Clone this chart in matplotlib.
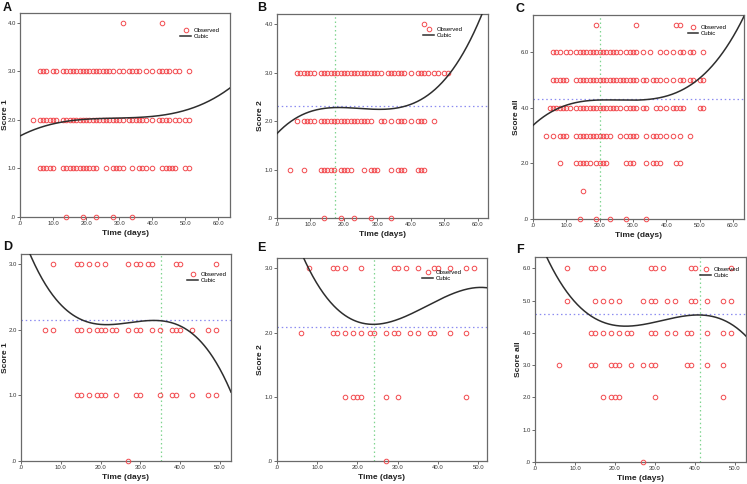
import numpy as np
import matplotlib
matplotlib.use("Agg")
import matplotlib.pyplot as plt
from matplotlib.ticker import FuncFormatter, MultipleLocator
from matplotlib.lines import Line2D

plt.rcParams["font.family"] = ["Liberation Sans", "DejaVu Sans"]

# ---------------- data (days observed at each score level) ----------------
# Panel A: Score 1
A_s4 = [31, 43]
A_s3 = [6, 7, 8, 10, 11, 13, 14, 15, 16, 17, 18, 19, 20, 21, 22, 23, 24, 25, 26, 27, 28,
        30, 31, 33, 34, 35, 36, 38, 40, 42, 43, 44, 45, 47, 48, 51]
A_s2 = [4, 6, 7, 8, 9, 10, 11] + list(range(13, 32)) + [33, 34, 35, 36, 37, 38, 40,
        42, 43, 44, 45, 47, 48, 50, 51]
A_s1 = [6, 7, 8, 9, 10, 13, 14, 15, 16, 17, 18, 19, 20, 21, 22, 23, 26, 28, 29, 30, 31,
        34, 36, 37, 38, 40, 43, 44, 45, 46, 47, 50, 51]
A_s0 = [14, 19, 23, 28, 34]
A_fit_x = [0, 10, 20, 30, 40, 50, 60]
A_fit_y = [1.66, 1.94, 2.00, 2.03, 2.07, 2.21, 2.49]

# Panel B: Score 2
B_s4 = [44]
B_s3 = [6, 7, 8, 9, 10, 11] + list(range(13, 32)) + [33, 34, 35, 36, 37, 38, 40,
        42, 43, 44, 45, 47, 48, 50, 51]
B_s2 = [6, 8, 9, 10, 11] + list(range(13, 29)) + [31, 32, 34, 36, 37, 38, 40, 42, 43, 44, 47]
B_s1 = [4, 8, 13, 14, 15, 16, 17, 19, 20, 21, 22, 26, 28, 29, 30, 34, 36, 37, 38, 42, 43, 44]
B_s0 = [14, 19, 23, 28, 34]
B_fit_x = [0, 10, 17, 30, 40, 50, 60]
B_fit_y = [1.75, 2.16, 2.32, 2.25, 2.30, 2.89, 4.00]
B_vline, B_hline = 17.2, 2.32

# Panel C: Score all
C_s7 = [19, 31, 43, 44]
C_s6 = [6, 7, 8, 10, 11] + list(range(13, 27)) + [28, 29, 30, 31, 33, 35, 38, 40, 42,
        44, 45, 47, 48, 51]
C_s5 = [6, 7, 8, 9, 10] + list(range(13, 32)) + [33, 34, 36, 37, 38, 40, 42, 44, 45,
        47, 48, 50, 51]
C_s4 = [5, 6, 7, 8, 9, 10, 11] + list(range(13, 27)) + [28, 29, 30, 31, 33, 34, 37, 38,
        40, 42, 43, 44, 45, 50, 51]
C_s3 = [4, 6, 8, 9, 10] + list(range(13, 24)) + [26, 28, 29, 30, 31, 34, 36, 37, 38,
        40, 42, 44, 47]
C_s2 = [8, 13, 14, 15, 16, 17, 19, 20, 21, 22, 28, 29, 30, 34, 36, 37, 38, 43, 44]
C_s1 = [15]
C_s0 = [14, 19, 23, 28, 34]
C_fit_x = [0, 10, 20, 30, 40, 50, 60]
C_fit_y = [3.39, 4.05, 4.33, 4.29, 4.41, 5.07, 6.57]
C_vline, C_hline = 20.2, 4.33

# Panel D: Score 1
D_s3 = [8, 14, 15, 17, 19, 21, 27, 29, 30, 32, 33, 39, 40, 49]
D_s2 = [6, 8, 14, 15, 17, 19, 20, 21, 23, 24, 27, 29, 30, 33, 35, 38, 39, 40, 43, 47, 49]
D_s1 = [14, 15, 17, 19, 20, 21, 24, 29, 30, 35, 38, 39, 43, 47, 49]
D_s0 = [27]
D_fit_x = [2, 10, 20, 30, 35, 40, 50, 52.8]
D_fit_y = [3.16, 2.48, 2.01, 2.11, 2.16, 2.10, 1.39, 1.05]
D_vline, D_hline = 35.3, 2.16

# Panel E: Score 2
E_s3 = [8, 14, 15, 17, 21, 29, 30, 32, 35, 39, 40, 43, 47, 49]
E_s2 = [6, 14, 15, 17, 19, 21, 23, 24, 27, 29, 30, 33, 35, 38, 39, 43, 47]
E_s1 = [17, 19, 20, 21, 27, 30, 47]
E_s0 = [27]
E_fit_x = [6.5, 10, 20, 24, 30, 40, 50, 52]
E_fit_y = [3.16, 2.77, 2.22, 2.09, 2.16, 2.54, 2.70, 2.69]
E_vline, E_hline = 24.0, 2.09

# Panel F: Score all
F_s6 = [8, 14, 15, 17, 29, 30, 32, 39, 40, 49]
F_s5 = [8, 15, 17, 19, 21, 27, 29, 30, 33, 35, 39, 40, 43, 47, 49]
F_s4 = [14, 15, 17, 19, 21, 23, 24, 29, 30, 33, 35, 38, 39, 43, 47, 49]
F_s3 = [6, 14, 15, 19, 20, 21, 24, 27, 29, 30, 38, 39, 43, 47]
F_s2 = [17, 19, 20, 21, 30, 47]
F_s0 = [27]
F_fit_x = [2.8, 10, 20, 22, 30, 41, 50, 52.8]
F_fit_y = [6.35, 5.03, 4.20, 4.17, 4.35, 4.57, 4.20, 3.89]
F_vline, F_hline = 41.2, 4.57

# ---------------- drawing ----------------
W, H = 747, 484
fig = plt.figure(figsize=(W / 100, H / 100), dpi=100)
fig.patch.set_facecolor("white")

RED = "#f24a4e"
LINE = "#2e2e2e"
SPINE = "#6a6a6a"
MS = 3.3


def fmt(v, pos):
    s = f"{v:.1f}"
    if s.startswith("0."):
        s = s[1:]
    return s


panels = [
    dict(letter="A", box=(20, 13, 230, 217), xlim=63.5, ylim=4.2, ystep=1.0, ylabel="Score 1",
         levels={4: A_s4, 3: A_s3, 2: A_s2, 1: A_s1, 0: A_s0}, fx=A_fit_x, fy=A_fit_y,
         v=None, h=None, leg=(0.76, 0.93), letpos=(3, 8), ylx=5.5),
    dict(letter="B", box=(277, 14, 488, 218), xlim=63.0, ylim=4.21, ystep=1.0, ylabel="Score 2",
         levels={4: B_s4, 3: B_s3, 2: B_s2, 1: B_s1, 0: B_s0}, fx=B_fit_x, fy=B_fit_y,
         v=B_vline, h=B_hline, leg=(0.69, 0.94), letpos=(257, 8), ylx=261),
    dict(letter="C", box=(533, 15, 744, 219), xlim=63.3, ylim=7.35, ystep=2.0, ylabel="Score all",
         levels={7: C_s7, 6: C_s6, 5: C_s5, 4: C_s4, 3: C_s3, 2: C_s2, 1: C_s1, 0: C_s0},
         fx=C_fit_x, fy=C_fit_y, v=C_vline, h=C_hline, leg=(0.73, 0.955), letpos=(516, 9), ylx=516),
    dict(letter="D", box=(21, 254, 231, 461), xlim=52.8, ylim=3.16, ystep=1.0, ylabel="Score 1",
         levels={3: D_s3, 2: D_s2, 1: D_s1, 0: D_s0}, fx=D_fit_x, fy=D_fit_y,
         v=D_vline, h=D_hline, leg=(0.79, 0.915), letpos=(3, 247), ylx=6),
    dict(letter="E", box=(277, 258, 487, 461), xlim=52.2, ylim=3.16, ystep=1.0, ylabel="Score 2",
         levels={3: E_s3, 2: E_s2, 1: E_s1, 0: E_s0}, fx=E_fit_x, fy=E_fit_y,
         v=E_vline, h=E_hline, leg=(0.69, 0.945), letpos=(257, 248), ylx=261),
    dict(letter="F", box=(535, 257, 746, 462), xlim=52.8, ylim=6.35, ystep=1.0, ylabel="Score all",
         levels={6: F_s6, 5: F_s5, 4: F_s4, 3: F_s3, 2: F_s2, 0: F_s0}, fx=F_fit_x, fy=F_fit_y,
         v=F_vline, h=F_hline, leg=(0.78, 0.955), letpos=(516, 250), ylx=518),
]

for p in panels:
    x0, y0, x1, y1 = p["box"]
    ax = fig.add_axes([x0 / W, 1 - y1 / H, (x1 - x0) / W, (y1 - y0) / H])
    ax.set_xlim(0, p["xlim"])
    ax.set_ylim(0, p["ylim"])
    for sp in ax.spines.values():
        sp.set_color(SPINE)
        sp.set_linewidth(0.9)

    if p["h"] is not None:
        ax.axhline(p["h"], color="#8c8cf0", lw=0.9, ls=(0, (1.2, 2.2)), zorder=1)
    if p["v"] is not None:
        ax.axvline(p["v"], color="#7fd48f", lw=0.9, ls=(0, (1.2, 2.2)), zorder=1)

    xs, ys = [], []
    for lvl, days in p["levels"].items():
        xs += list(days)
        ys += [lvl] * len(days)
    ax.plot(xs, ys, ls="none", marker="o", ms=MS, mfc="none", mec=RED, mew=0.7,
            zorder=3, clip_on=False)

    coef = np.polyfit(p["fx"], p["fy"], 3)
    xx = np.linspace(0, p["xlim"], 300)
    ax.plot(xx, np.polyval(coef, xx), color=LINE, lw=1.1, zorder=4)

    ax.xaxis.set_major_locator(MultipleLocator(10))
    ax.yaxis.set_major_locator(MultipleLocator(p["ystep"]))
    ax.xaxis.set_major_formatter(FuncFormatter(fmt))
    ax.yaxis.set_major_formatter(FuncFormatter(fmt))
    ax.tick_params(axis="both", labelsize=4.3, length=2.0, width=0.7, pad=1.0,
                   colors=SPINE, labelcolor="#333333")
    ax.set_xlabel("Time (days)", fontsize=6, fontweight="bold", labelpad=2.5, color="#222222")
    ax.set_ylabel("")
    fig.text(p["ylx"] / W, 1 - ((y0 + y1) / 2) / H, p["ylabel"], rotation=90,
             ha="center", va="center", fontsize=6, fontweight="bold", color="#222222")
    fig.text(p["letpos"][0] / W, 1 - p["letpos"][1] / H, p["letter"], ha="left",
             va="center", fontsize=9, fontweight="bold", color="#111111")

    handles = [Line2D([], [], ls="none", marker="o", ms=MS, mfc="none", mec=RED, mew=0.7),
               Line2D([], [], color=LINE, lw=1.1)]
    ax.legend(handles, ["Observed", "Cubic"], loc="upper left", bbox_to_anchor=p["leg"],
              frameon=False, fontsize=4.3, handlelength=1.8, handletextpad=0.4,
              labelspacing=0.15, borderpad=0.1, borderaxespad=0)

fig.savefig("out.png", dpi=100, facecolor="white")
